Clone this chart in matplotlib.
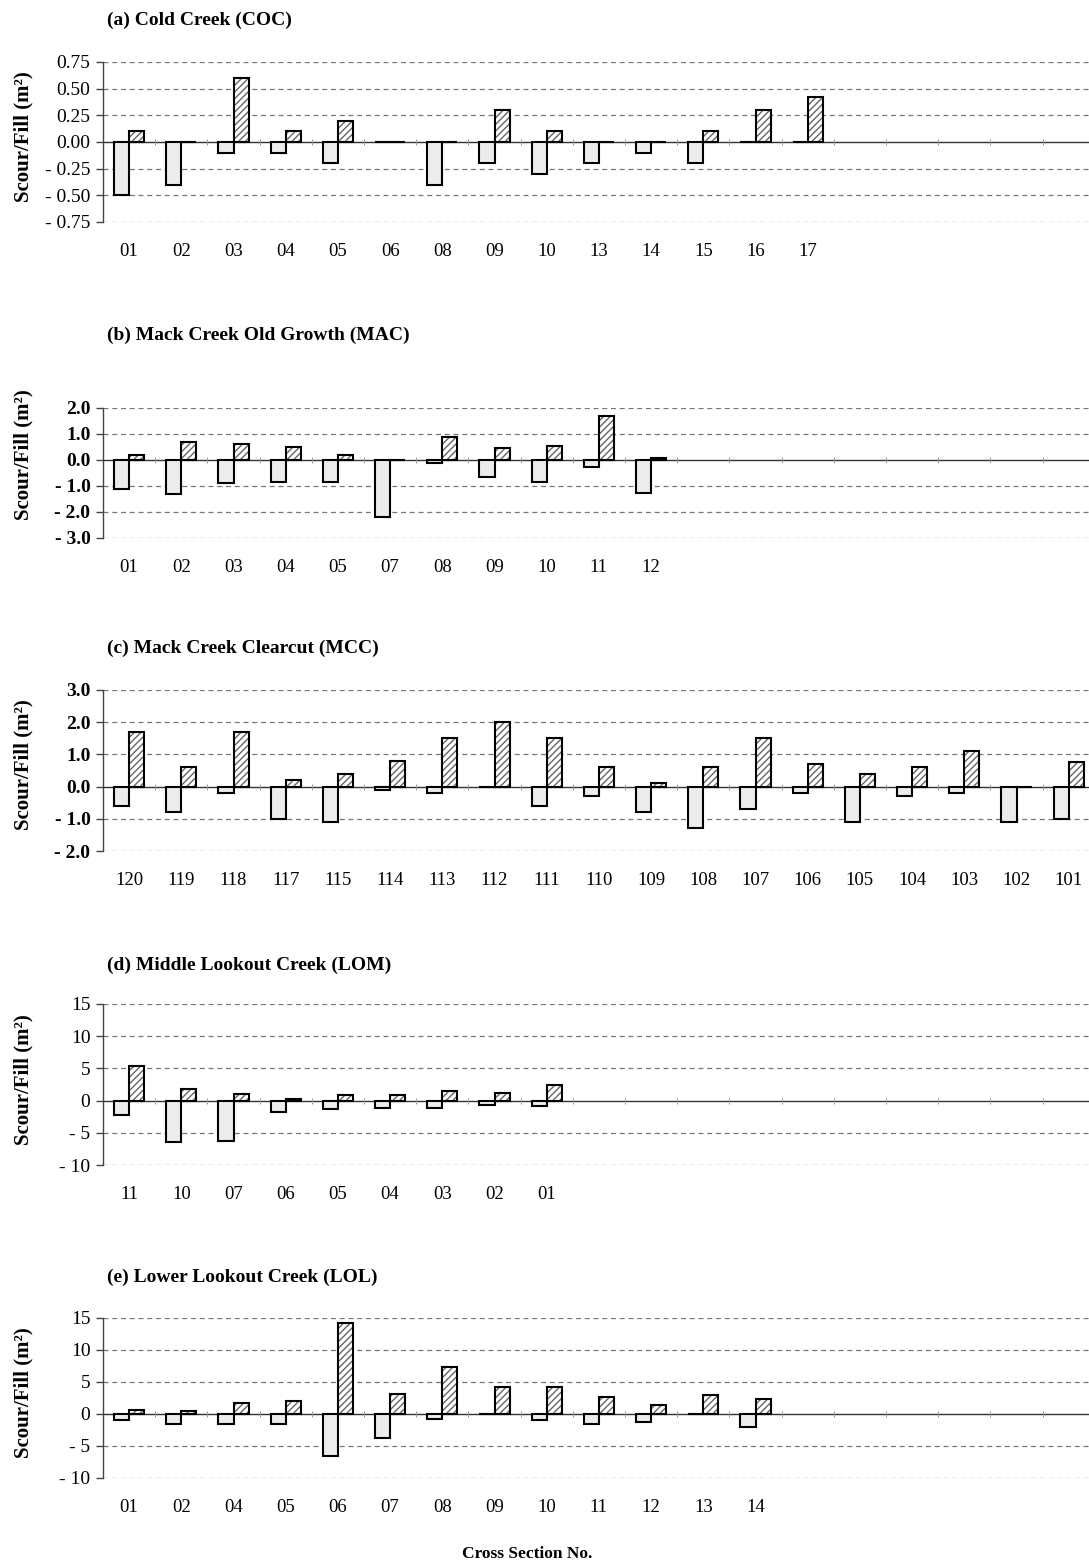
import numpy as np
import matplotlib
matplotlib.use("Agg")
import matplotlib.pyplot as plt

plt.rcParams.update({
    "font.family": "Liberation Serif",
    "font.size": 12,
    "hatch.linewidth": 1.0,
})

# (a) Cold Creek
coc_xs = ["01", "02", "03", "04", "05", "06", "08", "09", "10", "13", "14", "15", "16", "17"]
coc_scour = [-0.5, -0.4, -0.1, -0.1, -0.2, 0.0, -0.4, -0.2, -0.3, -0.2, -0.1, -0.2, 0.0, 0.0]
coc_fill = [0.1, 0.0, 0.6, 0.1, 0.2, 0.0, 0.0, 0.3, 0.1, 0.0, 0.0, 0.1, 0.3, 0.42]
coc_ticks = [-0.75, -0.5, -0.25, 0.0, 0.25, 0.5, 0.75]
coc_ticklabels = ["- 0.75", "- 0.50", "- 0.25", "0.00", "0.25", "0.50", "0.75"]

# (b) Mack Creek Old Growth
mac_xs = ["01", "02", "03", "04", "05", "07", "08", "09", "10", "11", "12"]
mac_scour = [-1.1, -1.3, -0.9, -0.85, -0.85, -2.2, -0.12, -0.65, -0.85, -0.25, -1.25]
mac_fill = [0.2, 0.7, 0.6, 0.5, 0.2, 0.0, 0.9, 0.45, 0.55, 1.7, 0.08]
mac_ticks = [-3.0, -2.0, -1.0, 0.0, 1.0, 2.0]
mac_ticklabels = ["- 3.0", "- 2.0", "- 1.0", "0.0", "1.0", "2.0"]

# (c) Mack Creek Clearcut
mcc_xs = ["120", "119", "118", "117", "115", "114", "113", "112", "111", "110",
          "109", "108", "107", "106", "105", "104", "103", "102", "101"]
mcc_scour = [-0.6, -0.8, -0.2, -1.0, -1.1, -0.1, -0.2, 0.0, -0.6, -0.3,
             -0.8, -1.3, -0.7, -0.2, -1.1, -0.3, -0.2, -1.1, -1.0]
mcc_fill = [1.7, 0.6, 1.7, 0.2, 0.4, 0.8, 1.5, 2.0, 1.5, 0.6,
            0.1, 0.6, 1.5, 0.7, 0.4, 0.6, 1.1, 0.0, 0.75]
mcc_ticks = [-2.0, -1.0, 0.0, 1.0, 2.0, 3.0]
mcc_ticklabels = ["- 2.0", "- 1.0", "0.0", "1.0", "2.0", "3.0"]

# (d) Middle Lookout Creek
lom_xs = ["11", "10", "07", "06", "05", "04", "03", "02", "01"]
lom_scour = [-2.3, -6.5, -6.2, -1.8, -1.3, -1.1, -1.1, -0.7, -0.9]
lom_fill = [5.4, 1.8, 1.0, 0.3, 0.8, 0.8, 1.5, 1.2, 2.5]
lom_ticks = [-10, -5, 0, 5, 10, 15]
lom_ticklabels = ["- 10", "- 5", "0", "5", "10", "15"]

# (e) Lower Lookout Creek
lol_xs = ["01", "02", "04", "05", "06", "07", "08", "09", "10", "11", "12", "13", "14"]
lol_scour = [-0.9, -1.5, -1.6, -1.6, -6.5, -3.7, -0.8, 0.0, -0.9, -1.6, -1.2, 0.0, -2.0]
lol_fill = [0.6, 0.5, 1.7, 2.0, 14.2, 3.2, 7.3, 4.2, 4.2, 2.6, 1.4, 3.0, 2.3]
lol_ticks = [-10, -5, 0, 5, 10, 15]
lol_ticklabels = ["- 10", "- 5", "0", "5", "10", "15"]

panels = [
    ("(a) Cold Creek (COC)", coc_xs, coc_scour, coc_fill, coc_ticks, coc_ticklabels, False),
    ("(b) Mack Creek Old Growth (MAC)", mac_xs, mac_scour, mac_fill, mac_ticks, mac_ticklabels, True),
    ("(c) Mack Creek Clearcut (MCC)", mcc_xs, mcc_scour, mcc_fill, mcc_ticks, mcc_ticklabels, True),
    ("(d) Middle Lookout Creek (LOM)", lom_xs, lom_scour, lom_fill, lom_ticks, lom_ticklabels, False),
    ("(e) Lower Lookout Creek (LOL)", lol_xs, lol_scour, lol_fill, lol_ticks, lol_ticklabels, False),
]

W, H = 1089, 1567
fig = plt.figure(figsize=(W / 100, H / 100), dpi=100)

# pixel layout: (axes top, axes bottom, title y, ylabel centre y)
layout = [(62, 222, 20, 137), (408, 538, 335, 455), (690, 851, 648, 765),
          (1004, 1165, 965, 1080), (1318, 1478, 1277, 1393)]
left_px = 103
width_px = 19 * 52.2
n_slots = 19
bw = 0.29

for (title, xs, scour, fill, ticks, tlabels, boldy), (top, bot, ty, ly) in zip(panels, layout):
    ax = fig.add_axes([left_px / W, 1 - bot / H, width_px / W, (bot - top) / H])
    x = np.arange(len(xs))

    # dashed grid
    for t in ticks:
        if t != 0:
            ax.axhline(t, color="#777777", lw=0.9, dashes=(4, 3), zorder=1)
    ax.axhline(0, color="#333333", lw=1.0, zorder=2)
    bounds = np.arange(n_slots) + 0.5
    ax.plot(bounds, np.zeros_like(bounds), "|", color="#999999", ms=4, mew=0.7, zorder=2)

    ax.bar(x - bw / 2, scour, width=bw, color="#ececec", edgecolor="black", lw=1.5, zorder=3)
    ax.bar(x + bw / 2, fill, width=bw, color="white", hatch="/////", edgecolor="#666666", lw=0, zorder=3)
    ax.bar(x + bw / 2, fill, width=bw, fill=False, edgecolor="black", lw=1.5, zorder=4)

    ax.set_xlim(-0.5, n_slots - 0.5)
    ax.set_ylim(ticks[0], ticks[-1])
    ax.set_xticks(x)
    ax.set_xticklabels(xs, fontsize=13.5)
    ax.tick_params(axis="x", length=0, pad=15)
    ax.set_yticks(ticks)
    ax.set_yticklabels(tlabels, fontsize=14, fontweight="bold" if boldy else "normal")
    ax.tick_params(axis="y", length=5, width=1, direction="out", pad=4, color="#444444")
    for s in ["top", "right", "bottom"]:
        ax.spines[s].set_visible(False)
    ax.spines["left"].set_color("#444444")
    ax.spines["left"].set_linewidth(1.0)

    fig.text(23 / W, 1 - ly / H, "Scour/Fill (m²)", fontsize=15, fontweight="bold",
             rotation=90, ha="center", va="center")
    fig.text(107 / W, 1 - ty / H, title, fontsize=14, fontweight="bold", ha="left", va="center")

fig.text(527 / W, 1 - 1554 / H, "Cross Section No.", fontsize=12.5, fontweight="bold",
         ha="center", va="center")

fig.savefig("out.png", dpi=100)
